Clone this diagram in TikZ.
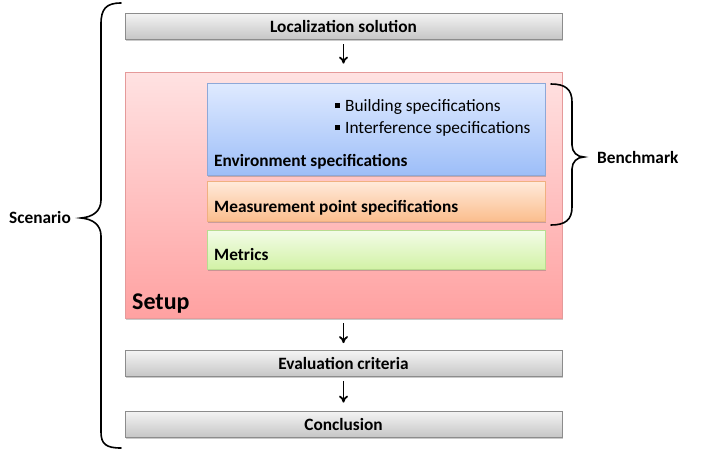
\documentclass[tikz,border=0pt]{standalone}
\usepackage{fontspec}
\setmainfont{Carlito}
\usetikzlibrary{arrows.meta,shadows}
\definecolor{grayedge}{HTML}{8C8C8C}
\definecolor{graytop}{HTML}{F4F4F4}
\definecolor{graybot}{HTML}{C6C6C6}
\definecolor{setupedge}{HTML}{E59A9A}
\definecolor{setuptop}{HTML}{FFE2E2}
\definecolor{setupbot}{HTML}{FFA1A1}
\definecolor{envedge}{HTML}{8EA8D8}
\definecolor{envtop}{HTML}{DFEAFF}
\definecolor{envbot}{HTML}{9DBEF8}
\definecolor{measedge}{HTML}{F0B080}
\definecolor{meastop}{HTML}{FFEADB}
\definecolor{measbot}{HTML}{FBBE8E}
\definecolor{metedge}{HTML}{B8DC90}
\definecolor{mettop}{HTML}{F3FCE8}
\definecolor{metbot}{HTML}{D2F2A6}
\tikzset{
  every node/.style={font=\fontsize{17.3}{20}\selectfont\bfseries},
  softshadow/.style={drop shadow={shadow xshift=1pt,shadow yshift=-1.5pt,opacity=0.35,fill=black!60}},
  stagebox/.style={draw=grayedge, line width=0.8pt, top color=graytop, bottom color=graybot,
    minimum width=437pt, minimum height=26pt, inner sep=0pt, softshadow},
  layerbox/.style={line width=0.8pt, minimum width=338pt, inner sep=0pt, softshadow},
  flow/.style={-{To[length=7pt,width=9pt]}, line width=1.8pt},
  bracket/.style={line width=1.6pt, line cap=round},
  plain/.style={font=\fontsize{17.3}{20}\selectfont}
}
\begin{document}
\begin{tikzpicture}[x=1pt,y=-1pt]
\useasboundingbox (0,0) rectangle (703,451);

% main chain of stages
\node[stagebox] (loc) at (343.5,26) {Localization solution};
\node[draw=setupedge, line width=0.8pt, top color=setuptop, bottom color=setupbot,
      minimum width=437pt, minimum height=246pt, inner sep=0pt, softshadow] (setup) at (343.5,195) {};
\node[stagebox] (eval) at (343.5,363.5) {Evaluation criteria};
\node[stagebox] (concl) at (343.5,424) {Conclusion};

% layers inside the setup
\node[layerbox, draw=envedge, top color=envtop, bottom color=envbot, minimum height=92pt] (env) at (376,129) {};
\node[layerbox, draw=measedge, top color=meastop, bottom color=measbot, minimum height=40pt] (meas) at (376,201) {};
\node[layerbox, draw=metedge, top color=mettop, bottom color=metbot, minimum height=39pt] (met) at (376,249.5) {};

\node[anchor=base west, inner sep=0pt] (envlabel) at (214,166) {Environment specifications};
\node[anchor=base west, inner sep=0pt] (measlabel) at (214,212) {Measurement point specifications};
\node[anchor=base west, inner sep=0pt] (metlabel) at (214,260) {Metrics};
\node[anchor=base west, inner sep=0pt, plain] (b1) at (335,111)
  {\raisebox{3pt}{\rule{5pt}{5pt}}\hspace{5pt}Building specifications};
\node[anchor=base west, inner sep=0pt, plain] (b2) at (335,133)
  {\raisebox{3pt}{\rule{5pt}{5pt}}\hspace{5pt}Interference specifications};
\node[anchor=base west, inner sep=0pt, font=\fontsize{24}{28}\selectfont\bfseries] (setuplabel) at (132,309) {Setup};

% arrows between stages
\draw[flow, shorten <=5pt, shorten >=8pt] (loc) -- (setup);
\draw[flow, shorten <=5pt, shorten >=7pt] (setup) -- (eval);
\draw[flow, shorten <=4pt, shorten >=8pt] (eval) -- (concl);

% brace around the whole scenario
\coordinate (sctip) at (81,218);
\draw[bracket] (121,3) .. controls (106,3) and (101,9) .. (101,24) -- (101,200)
  .. controls (101,211) and (93,217) .. (sctip)
  .. controls (93,219) and (101,225) .. (101,236) -- (101,432)
  .. controls (101,444) and (106,448) .. (121,448);
\node[anchor=east, inner sep=0pt] (scenario) at (71,217) {Scenario};

% brace around the benchmark layers
\coordinate (bmtip) at (584,157);
\draw[bracket] (551,84) .. controls (565,84) and (572,89) .. (572,102) -- (572,145)
  .. controls (572,152) and (577,157) .. (bmtip)
  .. controls (577,157) and (572,162) .. (572,169) -- (572,207)
  .. controls (572,220) and (565,225) .. (551,225);
\node[anchor=west, inner sep=0pt] (benchmark) at (597,157) {Benchmark};
\end{tikzpicture}
\end{document}
